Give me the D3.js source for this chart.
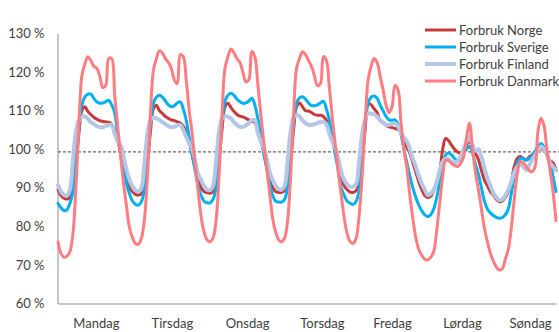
<!DOCTYPE html>
<html>
<head>
<meta charset="utf-8">
<script src="https://cdn.jsdelivr.net/npm/d3@7"></script>
<style>
  html, body { margin: 0; padding: 0; background: #fff; }
  svg text { font-family: Lato, "Liberation Sans", sans-serif; font-size: 13px; fill: #404040; }
</style>
</head>
<body>
<svg id="chart" width="559" height="332"></svg>
<script>
// Hourly consumption as % of weekly mean, Monday 00:00 through Sunday 23:00 (168 hours)
const dayNames = ["Mandag", "Tirsdag", "Onsdag", "Torsdag", "Fredag", "Lørdag", "Søndag"];
// hour of the week under each day label
const dayLabelHours = [12.7, 38.2, 63.4, 88.5, 112, 135.5, 158.3];
const yTicks = [60, 70, 80, 90, 100, 110, 120, 130];
const referenceLevel = 99.3;

const seriesNames = ["Forbruk Norge", "Forbruk Sverige", "Forbruk Finland", "Forbruk Danmark"];

const forbrukNorge = [
  89.5, 88, 87.3, 87.1, 87.5, 89.5, 96, 104, 110, 111, 109.8, 109, 108.3, 107.8, 107.4, 107.2, 107.1, 107, 106.5, 105, 102.5, 99, 95.5, 92,
  90, 89, 88.3, 88.1, 88.5, 90.5, 96.5, 104.5, 110.5, 111.4, 110, 109.3, 108.5, 108, 107.6, 107.4, 107.1, 106.8, 106, 104.5, 102, 98.5, 95, 92,
  90, 89, 88.7, 88.6, 89, 91, 97, 105, 111, 111.9, 110.8, 109.8, 109, 108.6, 108.4, 108, 107.6, 107.2, 107, 105, 102.5, 99, 95.5, 92,
  90, 89, 88.8, 88.8, 89.3, 91, 97, 105, 111, 112, 111, 110, 109.9, 109.5, 109, 108.8, 108.8, 108.5, 107.5, 105.5, 102.5, 99.5, 96.5, 93,
  90.5, 89.5, 88.9, 88.8, 89.3, 91, 97, 105, 111.9, 111.5, 110.5, 109.5, 107.5, 106.8, 106.2, 105.8, 105.6, 105.4, 105.1, 104.5, 102.4, 100.5, 99, 96.5,
  94, 91.5, 89.5, 88, 87.5, 87.8, 89.4, 91.5, 94, 100, 102.8, 102.2, 101, 100, 99.3, 98.9, 99.8, 101.1, 102, 100.6, 99, 97.3, 94.5, 92,
  90.5, 89, 88.1, 87, 86.4, 86.6, 87.5, 89, 91.5, 95.5, 97.6, 98.1, 97.6, 97.2, 98, 98.5, 99.3, 99.8, 100.2, 99.6, 98.5, 97, 96.5, 94.5
];

const forbrukSverige = [
  86, 84.8, 84.1, 84.3, 86, 89, 97, 106, 111.5, 113.5, 114.3, 114.3, 113.2, 112.3, 111.9, 112, 112.3, 112.7, 111.5, 109.5, 104, 99, 95.5, 91,
  88.3, 86.5, 85.7, 85.5, 86.5, 89.5, 97, 106, 112, 113.5, 114, 113.5, 112.5, 111.5, 111, 111.3, 112, 112.3, 110.5, 107.5, 103, 98.5, 94.5, 90.5,
  88, 86.5, 86.1, 86.1, 87, 90, 97.5, 106.5, 112.5, 114, 114.5, 114, 113, 112.3, 111.9, 112, 112.5, 113.2, 111.5, 108, 103.5, 99, 95, 91,
  88, 86.5, 86.3, 86.3, 87, 90, 97.5, 106, 112, 113.3, 113.6, 113, 112, 111.3, 111.3, 111.5, 112, 112.4, 110.5, 107.5, 103, 98.5, 94.5, 90,
  88, 86.5, 86, 85.7, 86.5, 89.5, 97, 106, 112, 113.5, 113.8, 113.2, 111.5, 110, 108.5, 107.6, 107.5, 107.6, 106.5, 104, 100, 96.5, 93, 90,
  87.5, 85.5, 84, 83, 82.5, 83, 84.5, 87.5, 91.5, 96, 98.5, 99, 98.5, 97.6, 97, 97.2, 98.9, 100, 100.7, 99, 96, 93.5, 90, 86.5,
  84.5, 83.5, 82.8, 82.3, 82.1, 82.3, 83, 84.5, 88.5, 93, 96.5, 97.6, 97.5, 97.2, 97.5, 98.2, 99.5, 100.8, 101.5, 100.5, 98.5, 96.5, 93, 89
];

const forbrukFinland = [
  90.7, 89, 88.1, 88, 89.5, 97, 104.5, 107.5, 108.4, 108.5, 108, 107, 106.5, 106, 105.7, 105.7, 106, 106.3, 106.3, 104, 102, 101, 98, 94.6,
  92, 90.3, 89.3, 89, 90, 96.5, 104, 107.5, 108.2, 108, 107.6, 107, 106.5, 106, 105.7, 105.8, 106.2, 106.3, 105, 103.2, 101.5, 100, 97, 93.5,
  92, 90.5, 89.5, 89.4, 90.5, 97, 104.5, 108, 108.5, 108.4, 108, 107, 106.3, 105.8, 105.8, 106.2, 106.8, 107.5, 107.6, 104.3, 102, 100.3, 97.5, 94,
  92, 90.5, 89.6, 89.5, 90.5, 97, 104.5, 108.2, 108.9, 108.5, 107.5, 106.8, 106.3, 106.3, 106.5, 106.8, 107, 107.1, 106.5, 104, 102, 100.2, 97.5, 94,
  92, 90.8, 90.3, 90.3, 91, 97, 104, 107.8, 109.3, 109.2, 109, 108.5, 107.5, 107, 106.3, 106.3, 106.5, 106.7, 106, 104, 103, 102, 100, 97.5,
  95.5, 93, 91, 89.5, 88.1, 88.5, 89.4, 91.5, 94.5, 96.8, 97.6, 97.4, 96.8, 96.3, 97, 98, 100, 102, 103.2, 101, 99.6, 100, 98, 95,
  92.5, 90.5, 88.6, 87.5, 86.8, 87, 88, 89.5, 91.5, 94, 95.5, 95.9, 95.5, 94.6, 95.8, 97.2, 98.5, 99.8, 100.7, 100, 98.5, 96.5, 95.5, 94.5
];

const forbrukDanmark = [
  76, 73, 72, 72.3, 73.5, 78, 90, 106, 119, 122, 124, 123, 121.5, 121, 119, 116, 116.5, 123.5, 123.5, 114, 106, 98, 91, 85,
  79.5, 77, 75.5, 75.4, 77, 82, 93, 109, 120.5, 123.5, 125.5, 125, 123.5, 122.5, 121, 118, 117, 124.5, 124, 118, 110, 104, 96, 89,
  82.5, 78.5, 76.5, 76, 77, 81.5, 93, 109, 121, 124, 126, 125, 123.5, 122.5, 120, 117.5, 118, 125.3, 124, 117, 109, 102, 95, 88.5,
  82, 78.5, 76.5, 76, 77, 81.5, 93, 109, 121, 123.5, 125.3, 124.5, 123, 121.5, 119, 116.5, 117, 124, 123, 116, 108, 101, 94, 88,
  82, 78, 76, 75.6, 77, 83, 93, 107, 118, 121.5, 123.5, 122.5, 119, 115.5, 111.5, 109.5, 111, 116.5, 115.5, 107, 100, 95, 88, 82,
  77, 74, 72.5, 71.5, 71.3, 72, 73.5, 79, 86, 93, 97.2, 97, 96.3, 95.8, 95.5, 96.3, 98, 103, 106.7, 100, 94, 89.5, 84.5, 79.5,
  76, 73, 71, 69.5, 68.7, 69, 71.5, 74, 79.5, 87, 93.5, 96.8, 96.5, 95.5, 94.5, 94.2, 95.5, 105, 108, 106, 99.5, 94.6, 89, 81.5
];

const seriesValues = [forbrukNorge, forbrukSverige, forbrukFinland, forbrukDanmark];
const seriesColors = ["#C8393B", "#00B0F0", "#B4C7E7", "#FF7C80"];
const seriesWidths = [3, 3, 4, 3];

const svg = d3.select("#chart");

const x = d3.scaleLinear().domain([0, 167]).range([58, 556]);
const y = d3.scaleLinear().domain([60, 130]).range([303.5, 33.5]);

// Y axis with percent labels
svg.append("g")
  .attr("transform", "translate(57.5,0)")
  .call(d3.axisLeft(y).tickValues(yTicks).tickSize(0).tickPadding(13).tickFormat(d => d + " %"))
  .call(g => g.select(".domain").attr("stroke", "#A0A0A0").attr("stroke-width", 1.2))
  .call(g => g.selectAll("text").attr("font-family", null).attr("font-size", null).attr("fill", null));

// X axis with day names
svg.append("g")
  .attr("transform", "translate(0,303.5)")
  .call(d3.axisBottom(x).tickValues(dayLabelHours).tickSize(0).tickSizeOuter(0).tickPadding(15)
    .tickFormat((d, i) => dayNames[i]))
  .call(g => g.select(".domain").attr("stroke", "#8C8C8C").attr("stroke-width", 1.2))
  .call(g => g.selectAll("text").attr("font-family", null).attr("font-size", null).attr("fill", null));

// Weekly mean reference line
svg.append("line")
  .attr("x1", x.range()[0]).attr("x2", 559)
  .attr("y1", y(referenceLevel)).attr("y2", y(referenceLevel))
  .attr("stroke", "#404040").attr("stroke-width", 1)
  .attr("stroke-dasharray", "3,2");

const line = d3.line()
  .x((d, i) => x(i))
  .y(d => y(d))
  .curve(d3.curveCatmullRom.alpha(0.5));

svg.append("g").selectAll("path")
  .data(seriesValues)
  .join("path")
  .attr("d", d => line(d))
  .attr("fill", "none")
  .attr("stroke", (d, i) => seriesColors[i])
  .attr("stroke-width", (d, i) => seriesWidths[i])
  .attr("stroke-linejoin", "round")
  .attr("stroke-linecap", "round");

// Legend
const legend = svg.append("g").attr("transform", "translate(425,30)");
const rows = legend.selectAll("g")
  .data(seriesNames)
  .join("g")
  .attr("transform", (d, i) => `translate(0,${i * 17})`);
rows.append("line")
  .attr("x1", 0).attr("x2", 31).attr("y1", 0).attr("y2", 0)
  .attr("stroke", (d, i) => seriesColors[i])
  .attr("stroke-width", (d, i) => seriesWidths[i]);
rows.append("text")
  .attr("x", 34).attr("y", 0).attr("dy", "0.35em")
  .text(d => d);
</script>
</body>
</html>
